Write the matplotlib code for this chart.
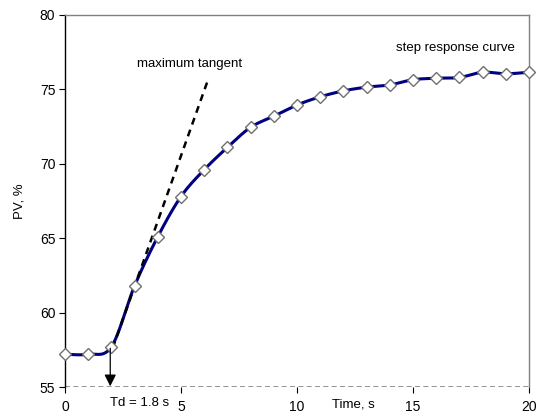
import numpy as np
import matplotlib
matplotlib.use("Agg")
import matplotlib.pyplot as plt

plt.rcParams['font.family'] = ['Liberation Sans', 'DejaVu Sans']

time_s = [0, 1, 2, 3, 4, 5, 6, 7, 8, 9, 10, 11, 12, 13, 14, 15, 16, 17, 18, 19, 20]
pv = [57.2, 57.2, 57.7, 61.8, 65.1, 67.8, 69.6, 71.1, 72.45, 73.2, 73.95, 74.5,
      74.9, 75.15, 75.3, 75.65, 75.75, 75.8, 76.15, 76.05, 76.15]
tangent_x = [2.05, 6.2]
tangent_y = [57.6, 75.8]
td_value = 1.95
baseline = 55

x_ticks = [0, 5, 10, 15, 20]
y_ticks = [55, 60, 65, 70, 75, 80]


def smooth(xs, ys, n=30):
    xs = np.asarray(xs, float)
    ys = np.asarray(ys, float)
    px = np.concatenate([[xs[0]], xs, [xs[-1]]])
    py = np.concatenate([[ys[0]], ys, [ys[-1]]])
    outx, outy = [], []
    t = np.linspace(0, 1, n)
    for i in range(1, len(px) - 2):
        p0 = np.array([px[i - 1], py[i - 1]])
        p1 = np.array([px[i], py[i]])
        p2 = np.array([px[i + 1], py[i + 1]])
        p3 = np.array([px[i + 2], py[i + 2]])
        c1 = p1 + (p2 - p0) / 6
        c2 = p2 - (p3 - p1) / 6
        b = ((1 - t) ** 3)[:, None] * p1 + (3 * (1 - t) ** 2 * t)[:, None] * c1 \
            + (3 * (1 - t) * t ** 2)[:, None] * c2 + (t ** 3)[:, None] * p2
        outx.extend(b[:, 0])
        outy.extend(b[:, 1])
    return np.array(outx), np.array(outy)


fig = plt.figure(figsize=(5.39, 4.16), dpi=100)
ax = fig.add_axes([0.1206, 0.0697, 0.8608, 0.8943])

sx, sy = smooth(time_s, pv)
ax.plot(sx, sy, color='#000080', lw=2.2, zorder=3)
ax.plot(time_s, pv, ls='none', marker='D', ms=6.5, mfc='white', mec='#707070',
        mew=1.0, zorder=4, clip_on=False)
ax.plot(tangent_x, tangent_y, color='black', ls=(0, (2.8, 2.2)), lw=1.8, zorder=3.5)

ax.axhline(baseline, color='#808080', ls=(0, (3, 2)), lw=1.2, zorder=1)
ax.annotate('', xy=(td_value, baseline + 0.05), xytext=(td_value, 57.6),
            arrowprops=dict(arrowstyle='-|>,head_length=0.7,head_width=0.35',
                            color='black', lw=0.9, shrinkA=0, shrinkB=0), zorder=5)

ax.set_xlim(0, 20)
ax.set_ylim(55, 80)
ax.set_xticks(x_ticks)
ax.set_yticks(y_ticks)
ax.tick_params(axis='both', labelsize=10, length=4, width=0.8, colors='black', pad=3)
ax.tick_params(axis='x', pad=5)

for s in ['top', 'right']:
    ax.spines[s].set_color('#808080')
    ax.spines[s].set_linewidth(1.0)
ax.spines['bottom'].set_visible(False)
ax.spines['left'].set_color('black')
ax.spines['left'].set_linewidth(1.0)

ax.set_ylabel('PV, %', fontsize=9.5, labelpad=10)

ax.text(3.2, 53.9, 'Td = 1.8 s', fontsize=9.5, ha='center', va='center', clip_on=False)
ax.text(12.45, 53.8, 'Time, s', fontsize=9.5, ha='center', va='center', clip_on=False)
ax.text(5.37, 76.7, 'maximum tangent', fontsize=9.5, ha='center', va='center')
ax.text(16.85, 77.78, 'step response curve', fontsize=9.5, ha='center', va='center')

fig.savefig('out.png', dpi=100)
